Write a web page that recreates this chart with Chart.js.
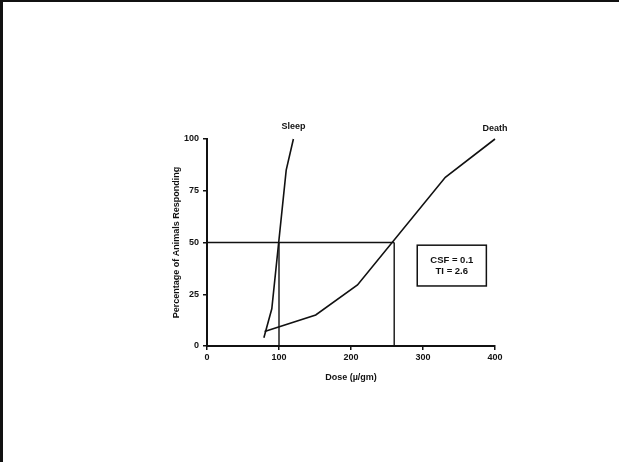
<!DOCTYPE html>
<html>
<head>
<meta charset="utf-8">
<script src="https://cdn.jsdelivr.net/npm/chart.js@4"></script>
<style>
  html, body { margin: 0; padding: 0; background: #fff; }
  #wrap { width: 619px; height: 462px; position: relative; }
</style>
</head>
<body>
<div id="wrap"><canvas id="c" width="619" height="462"></canvas></div>
<script>
// Data
const sleepDose = [79, 90, 110, 120];
const sleepPct  = [4, 18, 85, 100];
const deathDose = [80, 151, 209, 331, 400];
const deathPct  = [7, 15, 29.5, 81.5, 100];
// ED50 / LD50 reference lines
const ed50 = 100;
const ld50 = 260;
const refLevel = 50;
const xTicks = [0, 100, 200, 300, 400];
const yTicks = [0, 25, 50, 75, 100];
const boxLines = ['CSF = 0.1', 'TI = 2.6'];
const curveLabels = [
  { text: 'Sleep', x: 120, y: 106 },
  { text: 'Death', x: 400, y: 105 }
];
const boxRange = { x0: 292, x1: 388, y0: 29, y1: 48.7 };

const FONT = '"Liberation Sans", Arial, sans-serif';

function pts(xs, ys) { return xs.map((x, i) => ({ x: x, y: ys[i] })); }

const lineDs = (label, data, w) => ({
  label, data, showLine: true, borderColor: '#111', borderWidth: w,
  pointRadius: 0, fill: false, tension: 0, clip: false
});

const decor = {
  id: 'decor',
  beforeDraw(chart) {
    const ctx = chart.ctx;
    ctx.save();
    ctx.fillStyle = '#fff';
    ctx.fillRect(0, 0, chart.width, chart.height);
    ctx.fillStyle = '#111';
    ctx.fillRect(0, 0, chart.width, 2);
    ctx.fillRect(0, 0, 3, chart.height);
    ctx.restore();
  },
  afterDraw(chart) {
    const ctx = chart.ctx;
    const xs = chart.scales.x, ys = chart.scales.y;
    ctx.save();
    ctx.fillStyle = '#111';
    ctx.font = 'bold 9px ' + FONT;
    ctx.textAlign = 'center';
    ctx.textBaseline = 'middle';
    curveLabels.forEach(l => {
      ctx.fillText(l.text, xs.getPixelForValue(l.x), ys.getPixelForValue(l.y));
    });
    const bx0 = xs.getPixelForValue(boxRange.x0), bx1 = xs.getPixelForValue(boxRange.x1);
    const by0 = ys.getPixelForValue(boxRange.y1), by1 = ys.getPixelForValue(boxRange.y0);
    ctx.strokeStyle = '#111';
    ctx.lineWidth = 1.5;
    ctx.strokeRect(bx0, by0, bx1 - bx0, by1 - by0);
    const cx = (bx0 + bx1) / 2, cy = (by0 + by1) / 2;
    ctx.font = 'bold 9.5px ' + FONT;
    ctx.fillText(boxLines[0], cx, cy - 5.5);
    ctx.fillText(boxLines[1], cx, cy + 5.5);
    ctx.restore();
  }
};

new Chart(document.getElementById('c'), {
  type: 'scatter',
  data: {
    datasets: [
      lineDs('Sleep', pts(sleepDose, sleepPct), 1.6),
      lineDs('Death', pts(deathDose, deathPct), 1.6),
      lineDs('ref-h', [{ x: 0, y: refLevel }, { x: ld50, y: refLevel }], 1.4),
      lineDs('ref-ed', [{ x: ed50, y: 0 }, { x: ed50, y: refLevel }], 1.4),
      lineDs('ref-ld', [{ x: ld50, y: 0 }, { x: ld50, y: refLevel }], 1.4)
    ]
  },
  options: {
    responsive: false,
    animation: false,
    events: [],
    layout: { padding: { left: 167, right: 124, top: 139, bottom: 75 } },
    plugins: { legend: { display: false }, tooltip: { enabled: false } },
    scales: {
      x: {
        type: 'linear', min: 0, max: 400,
        afterBuildTicks: s => { s.ticks = xTicks.map(v => ({ value: v })); },
        afterFit: s => { s.height = 41; },
        grid: { drawOnChartArea: false, drawTicks: true, tickLength: 4, color: '#111', lineWidth: 1.5 },
        border: { display: true, color: '#111', width: 2 },
        ticks: { color: '#111', padding: 2, maxRotation: 0, font: { family: FONT, size: 9, weight: 'bold' } },
        title: { display: true, text: 'Dose (µ/gm)', color: '#111', padding: { top: 4, bottom: 4 }, font: { family: FONT, size: 9, weight: 'bold' } }
      },
      y: {
        type: 'linear', min: 0, max: 100,
        afterBuildTicks: s => { s.ticks = yTicks.map(v => ({ value: v })); },
        afterFit: s => { s.width = 40; },
        grid: { drawOnChartArea: false, drawTicks: true, tickLength: 4, color: '#111', lineWidth: 1.5 },
        border: { display: true, color: '#111', width: 2 },
        ticks: { color: '#111', padding: 4, font: { family: FONT, size: 9, weight: 'bold' } },
        title: { display: true, text: 'Percentage of Animals Responding', color: '#111', padding: { top: 4, bottom: 4 }, font: { family: FONT, size: 9, weight: 'bold' } }
      }
    }
  },
  plugins: [decor]
});
</script>
</body>
</html>
